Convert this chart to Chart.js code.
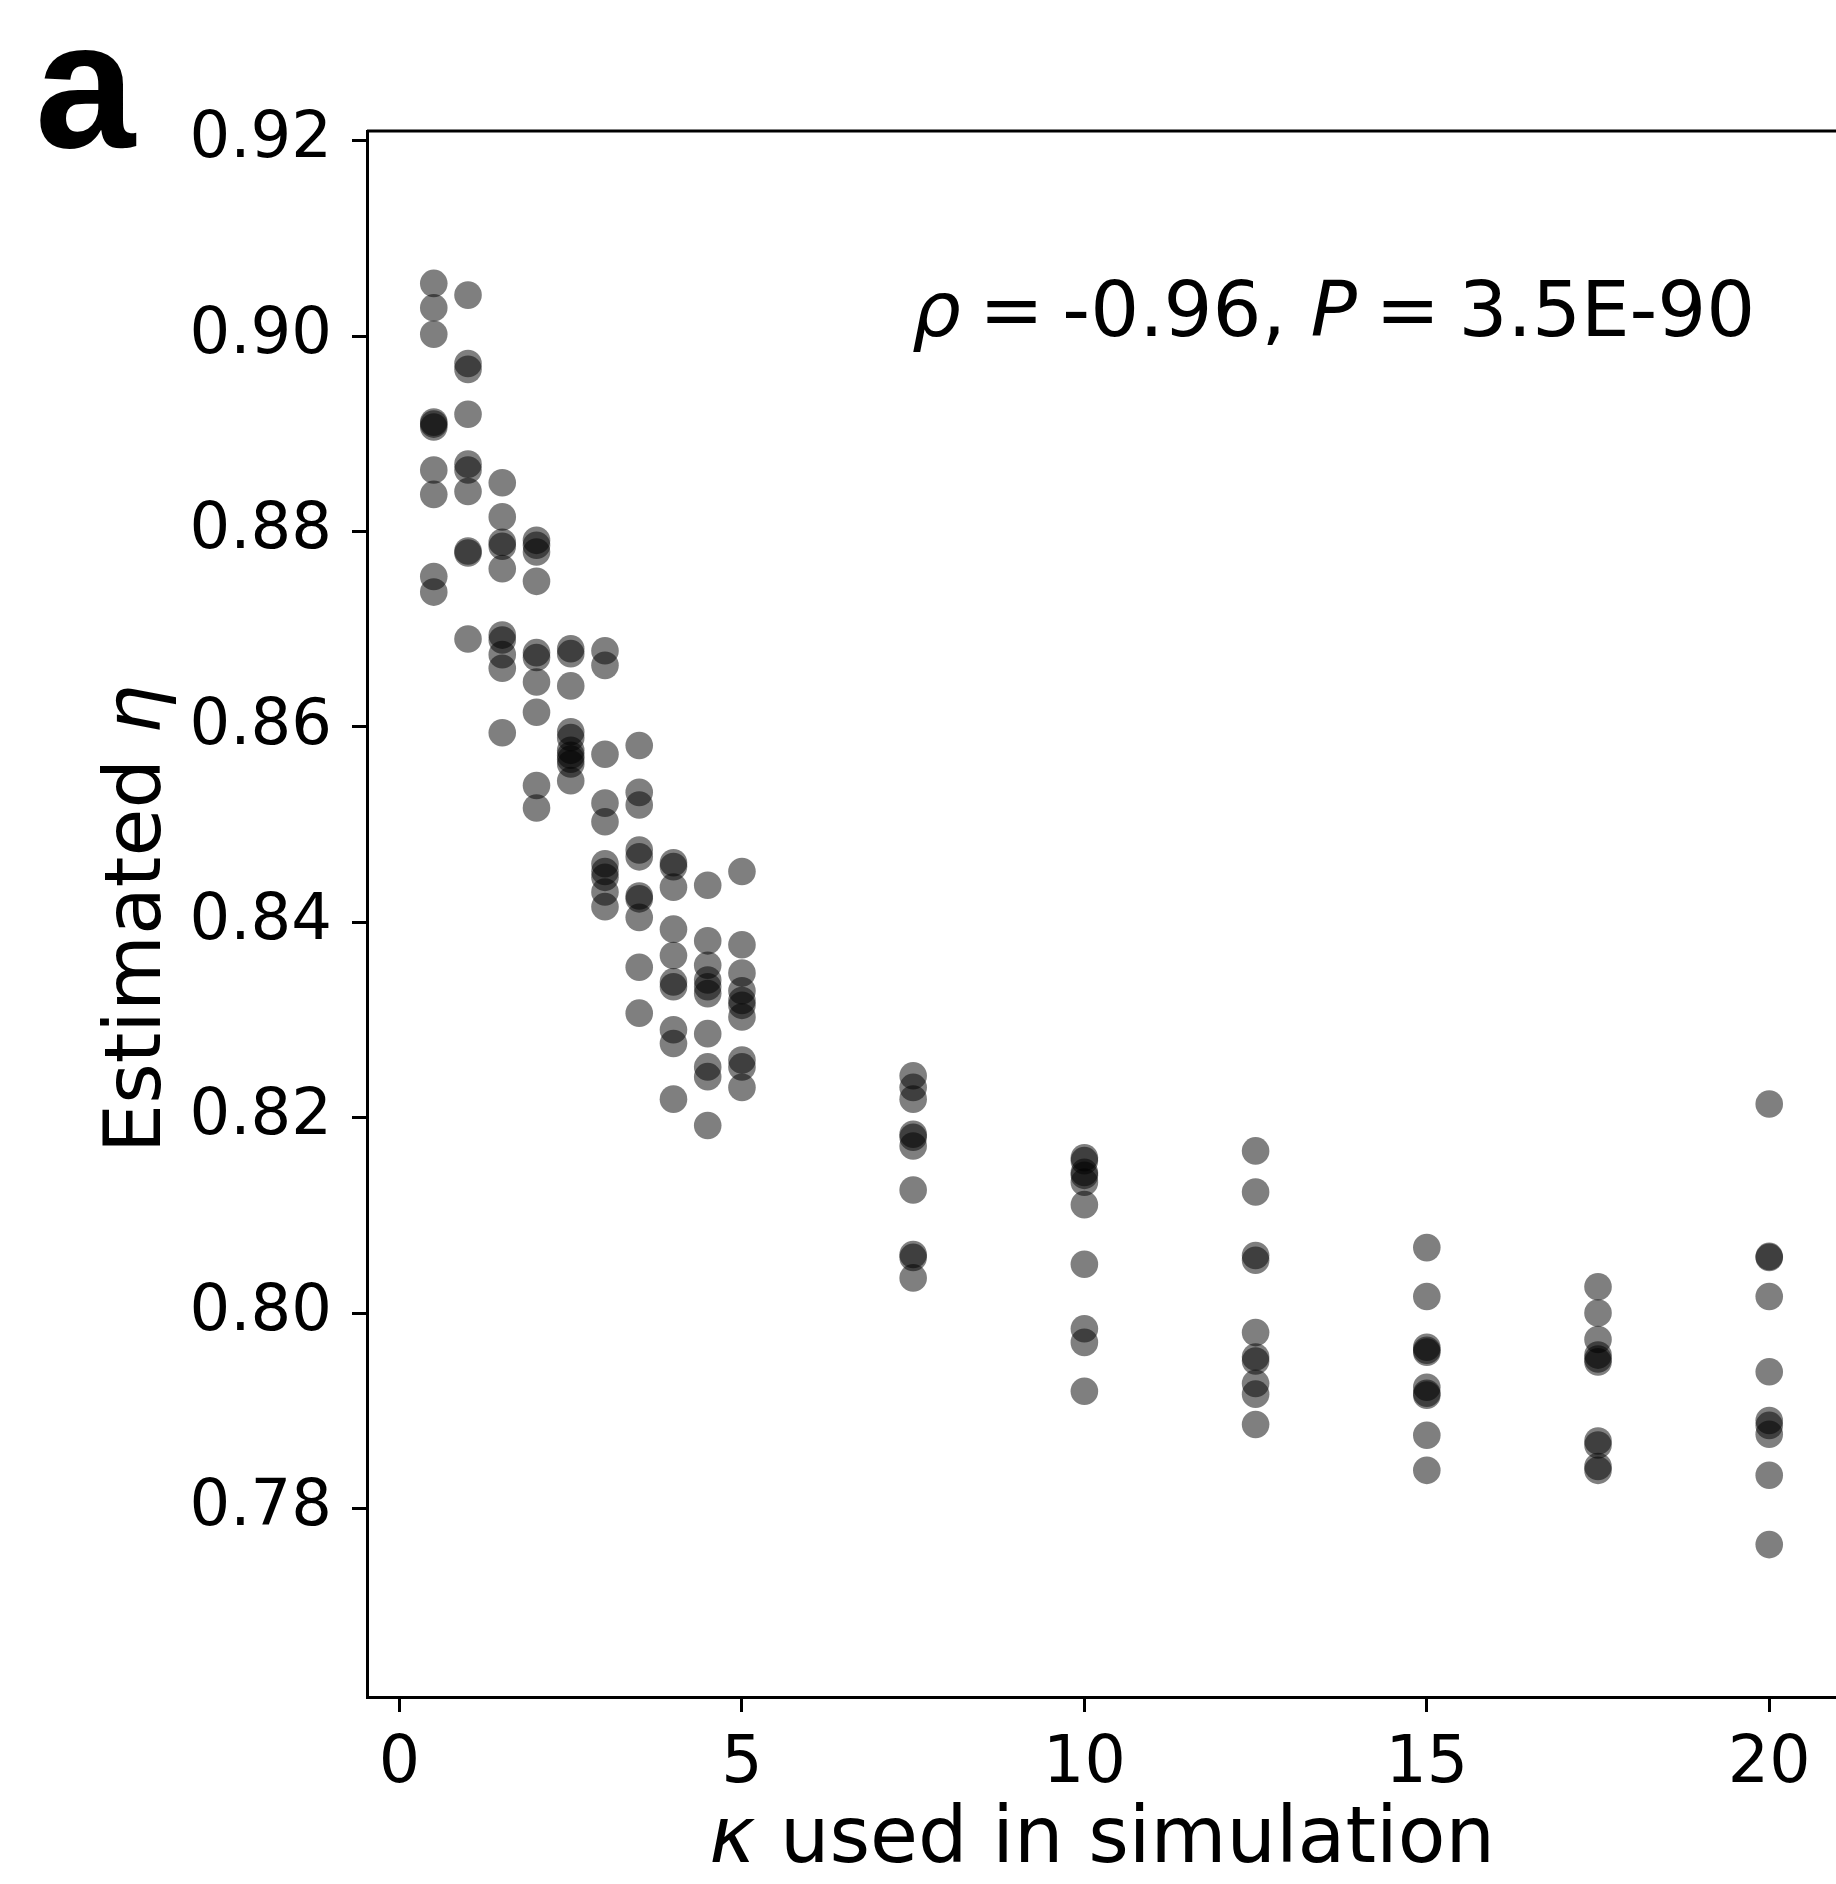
<!DOCTYPE html>
<html>
<head>
<meta charset="utf-8">
<script src="https://cdn.jsdelivr.net/npm/chart.js@4.4.1/dist/chart.umd.min.js"></script>
<style>
  html, body { margin: 0; padding: 0; background: #fff; overflow: hidden; }
  canvas { display: block; }
</style>
</head>
<body>
<canvas id="scatter" width="1836" height="1884"></canvas>
<script>
// kappa used in each simulation batch (x positions)
const kappaValues = [0.5, 1, 1.5, 2, 2.5, 3, 3.5, 4, 4.5, 5, 7.5, 10, 12.5, 15, 17.5, 20];

// estimated eta, ten runs per kappa
const eta_k0_5 = [0.9054, 0.9029, 0.9002, 0.8912, 0.8910, 0.8907, 0.8863, 0.8838, 0.8754, 0.8738];
const eta_k1   = [0.9042, 0.8972, 0.8966, 0.8920, 0.8869, 0.8863, 0.8841, 0.8780, 0.8778, 0.8690];
const eta_k1_5 = [0.8850, 0.8815, 0.8789, 0.8785, 0.8762, 0.8694, 0.8689, 0.8674, 0.8660, 0.8594];
const eta_k2   = [0.8791, 0.8786, 0.8779, 0.8749, 0.8676, 0.8671, 0.8646, 0.8615, 0.8540, 0.8517];
const eta_k2_5 = [0.8680, 0.8675, 0.8642, 0.8595, 0.8589, 0.8576, 0.8571, 0.8567, 0.8562, 0.8545];
const eta_k3   = [0.8678, 0.8663, 0.8572, 0.8522, 0.8503, 0.8460, 0.8452, 0.8446, 0.8431, 0.8416];
const eta_k3_5 = [0.8581, 0.8533, 0.8520, 0.8474, 0.8467, 0.8427, 0.8424, 0.8405, 0.8354, 0.8307];
const eta_k4   = [0.8461, 0.8457, 0.8436, 0.8393, 0.8366, 0.8339, 0.8334, 0.8290, 0.8276, 0.8219];
const eta_k4_5 = [0.8438, 0.8381, 0.8356, 0.8341, 0.8334, 0.8327, 0.8286, 0.8252, 0.8242, 0.8192];
const eta_k5   = [0.8452, 0.8377, 0.8348, 0.8330, 0.8320, 0.8315, 0.8303, 0.8259, 0.8252, 0.8231];
const eta_k7_5 = [0.8243, 0.8231, 0.8219, 0.8183, 0.8180, 0.8171, 0.8126, 0.8060, 0.8057, 0.8036];
const eta_k10  = [0.8159, 0.8156, 0.8144, 0.8141, 0.8134, 0.8111, 0.8050, 0.7984, 0.7970, 0.7920];
const eta_k12_5 = [0.8166, 0.8124, 0.8059, 0.8054, 0.7980, 0.7955, 0.7951, 0.7928, 0.7917, 0.7886];
const eta_k15  = [0.8067, 0.8017, 0.7965, 0.7962, 0.7960, 0.7924, 0.7918, 0.7916, 0.7875, 0.7839];
const eta_k17_5 = [0.8027, 0.8000, 0.7973, 0.7957, 0.7953, 0.7950, 0.7869, 0.7865, 0.7843, 0.7839];
const eta_k20  = [0.8214, 0.8058, 0.8057, 0.8017, 0.7940, 0.7890, 0.7885, 0.7876, 0.7834, 0.7763];

const etaColumns = [eta_k0_5, eta_k1, eta_k1_5, eta_k2, eta_k2_5, eta_k3, eta_k3_5, eta_k4,
                    eta_k4_5, eta_k5, eta_k7_5, eta_k10, eta_k12_5, eta_k15, eta_k17_5, eta_k20];

const xTicks = [0, 5, 10, 15, 20];
const yTicks = [0.78, 0.80, 0.82, 0.84, 0.86, 0.88, 0.90, 0.92];
const xLimits = [-0.475, 20.975];
const yLimits = [0.7607, 0.921];

const points = [];
kappaValues.forEach((k, i) => {
    etaColumns[i].forEach(v => points.push({ x: k, y: v }));
});

const FONT = "'DejaVu Sans', sans-serif";

// draw a row of text pieces, some of them italic (mathtext style)
function drawPieces(ctx, pieces, x, y, size, align) {
    const widths = pieces.map(p => {
        ctx.font = (p.italic ? 'italic ' : '') + size + 'px ' + FONT;
        return ctx.measureText(p.text).width + (p.gap || 0) * size;
    });
    const total = widths.reduce((a, b) => a + b, 0);
    let cx = align === 'center' ? x - total / 2 : x;
    pieces.forEach((p, i) => {
        ctx.font = (p.italic ? 'italic ' : '') + size + 'px ' + FONT;
        ctx.fillText(p.text, cx, y);
        cx += widths[i];
    });
}

const decorations = {
    id: 'decorations',
    afterDraw(chart) {
        const ctx = chart.ctx;
        const area = chart.chartArea;
        ctx.save();
        // top spine only, the right one falls just outside the picture
        ctx.strokeStyle = '#000';
        ctx.lineWidth = 3;
        ctx.beginPath();
        ctx.moveTo(area.left, area.top);
        ctx.lineTo(area.right + 2, area.top);
        ctx.stroke();

        ctx.fillStyle = '#000';
        ctx.textAlign = 'left';
        ctx.textBaseline = 'alphabetic';

        // panel letter
        ctx.font = "bold 180px 'Liberation Sans', Arial, sans-serif";
        ctx.fillText('a', 35, 147);

        // x axis title
        drawPieces(ctx, [
            { text: 'κ', italic: true },
            { text: ' used in simulation' }
        ], 1102, 1862, 78, 'center');

        // y axis title
        ctx.save();
        ctx.translate(160, 919);
        ctx.rotate(-Math.PI / 2);
        drawPieces(ctx, [
            { text: 'Estimated ' },
            { text: 'η', italic: true }
        ], 0, 0, 78, 'center');
        ctx.restore();

        // correlation annotation
        drawPieces(ctx, [
            { text: 'ρ', italic: true, gap: 0.24 },
            { text: '=', gap: 0.24 },
            { text: '-0.96, ' },
            { text: 'P', italic: true, gap: 0.24 },
            { text: '=', gap: 0.24 },
            { text: '3.5E-90' }
        ], 912, 336, 77, 'left');
        ctx.restore();
    }
};

new Chart(document.getElementById('scatter'), {
    type: 'scatter',
    data: {
        datasets: [{
            data: points,
            backgroundColor: 'rgba(0,0,0,0.5)',
            borderWidth: 0,
            pointRadius: 13.8,
            pointHoverRadius: 13.8
        }]
    },
    options: {
        responsive: false,
        animation: false,
        devicePixelRatio: 1,
        layout: { autoPadding: false, padding: { left: 0, top: 131, right: 0, bottom: 0 } },
        plugins: {
            legend: { display: false },
            tooltip: { enabled: false }
        },
        scales: {
            x: {
                type: 'linear',
                min: xLimits[0],
                max: xLimits[1],
                afterBuildTicks: scale => { scale.ticks = xTicks.map(v => ({ value: v })); },
                afterFit: scale => {
                    scale.height = 187;
                    scale.paddingLeft = 0;
                    scale.paddingRight = 0;
                },
                grid: { drawOnChartArea: false, drawTicks: true, tickLength: 15, tickWidth: 3, tickColor: '#000' },
                border: { display: true, color: '#000', width: 3 },
                ticks: {
                    color: '#000',
                    padding: 14,
                    maxRotation: 0,
                    font: { family: FONT, size: 65 },
                    callback: v => String(v)
                }
            },
            y: {
                type: 'linear',
                min: yLimits[0],
                max: yLimits[1],
                afterBuildTicks: scale => { scale.ticks = yTicks.map(v => ({ value: v })); },
                afterFit: scale => {
                    scale.width = 367;
                    scale.paddingTop = 0;
                    scale.paddingBottom = 0;
                },
                grid: { drawOnChartArea: false, drawTicks: true, tickLength: 15, tickWidth: 3, tickColor: '#000' },
                border: { display: true, color: '#000', width: 3 },
                ticks: {
                    color: '#000',
                    padding: 20,
                    font: { family: FONT, size: 64 },
                    callback: v => v.toFixed(2)
                }
            }
        }
    },
    plugins: [decorations]
});
</script>
</body>
</html>
